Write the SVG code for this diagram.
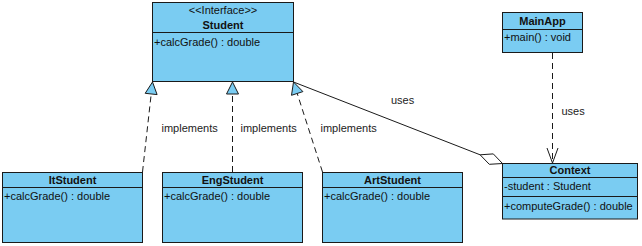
<svg xmlns="http://www.w3.org/2000/svg" width="642" height="246" viewBox="0 0 642 246">
  <style>
    .box { fill: #7ACCF2; stroke: #1a1a1a; stroke-width: 1; }
    .sep { stroke: #1a1a1a; stroke-width: 1; }
    text { font-family: "Liberation Sans", Arial, sans-serif; font-size: 11px; fill: #111; }
    .name { font-weight: bold; text-anchor: middle; }
    .stereo { text-anchor: middle; }
    .lbl { fill: #222; }
    .dash { fill: none; stroke: #1a1a1a; stroke-width: 1; stroke-dasharray: 6 4; }
    .solid { fill: none; stroke: #1a1a1a; stroke-width: 1; }
    .tri { fill: #7ACCF2; stroke: #1a1a1a; stroke-width: 1; }
    .dia { fill: #fff; stroke: #1a1a1a; stroke-width: 1; }
  </style>
  <rect width="642" height="246" fill="#fff"/>

  <g id="connectors">
    <!-- realization: ItStudent -> Student -->
    <line class="dash" x1="142.5" y1="172" x2="151.2" y2="94"/>
    <polygon class="tri" points="152.5,82 157.1,94.6 145.2,93.3"/>
    <!-- realization: EngStudent -> Student -->
    <line class="dash" x1="232.5" y1="172" x2="232.5" y2="94"/>
    <polygon class="tri" points="232.5,82 238.5,94 226.5,94"/>
    <!-- realization: ArtStudent -> Student -->
    <line class="dash" x1="322.5" y1="172" x2="297.2" y2="93.4"/>
    <polygon class="tri" points="293.5,82 302.9,91.6 291.5,95.3"/>
    <!-- aggregation: Context holds a Student -->
    <line class="solid" x1="293.5" y1="82" x2="480.1" y2="154.8"/>
    <polygon class="dia" points="502.5,163.5 493.3,153.9 480.1,154.8 489.3,164.3"/>
    <!-- dependency: MainApp uses Context -->
    <line class="dash" x1="552.5" y1="53" x2="552.5" y2="162"/>
    <polyline class="solid" points="547,148 552.5,163 558,148"/>

    <text class="lbl" x="161.5" y="132">implements</text>
    <text class="lbl" x="240.5" y="132">implements</text>
    <text class="lbl" x="320.5" y="132">implements</text>
    <text class="lbl" x="391" y="104">uses</text>
    <text class="lbl" x="561.5" y="114.5">uses</text>
  </g>

  <g id="Student">
    <rect class="box" x="152.5" y="2.5" width="141" height="79"/>
    <line class="sep" x1="152.5" y1="32.5" x2="293.5" y2="32.5"/>
    <text class="stereo" x="223" y="13.5">&lt;&lt;Interface&gt;&gt;</text>
    <text class="name" x="223" y="28.5">Student</text>
    <text x="154" y="46">+calcGrade() : double</text>
  </g>

  <g id="MainApp">
    <rect class="box" x="502.5" y="12.5" width="80" height="40"/>
    <line class="sep" x1="502.5" y1="29.5" x2="582.5" y2="29.5"/>
    <text class="name" x="542.5" y="25">MainApp</text>
    <text x="504" y="41">+main() : void</text>
  </g>

  <g id="ItStudent">
    <rect class="box" x="2.5" y="172.5" width="140" height="70"/>
    <line class="sep" x1="2.5" y1="187.5" x2="142.5" y2="187.5"/>
    <text class="name" x="72.5" y="184">ItStudent</text>
    <text x="4" y="200">+calcGrade() : double</text>
  </g>

  <g id="EngStudent">
    <rect class="box" x="162.5" y="172.5" width="140" height="70"/>
    <line class="sep" x1="162.5" y1="187.5" x2="302.5" y2="187.5"/>
    <text class="name" x="232.5" y="184">EngStudent</text>
    <text x="164" y="200">+calcGrade() : double</text>
  </g>

  <g id="ArtStudent">
    <rect class="box" x="322.5" y="172.5" width="140" height="70"/>
    <line class="sep" x1="322.5" y1="187.5" x2="462.5" y2="187.5"/>
    <text class="name" x="392.5" y="184">ArtStudent</text>
    <text x="324" y="200">+calcGrade() : double</text>
  </g>

  <g id="Context">
    <rect class="box" x="502.5" y="163.5" width="135" height="55.5"/>
    <line class="sep" x1="502.5" y1="177.5" x2="637.5" y2="177.5"/>
    <line class="sep" x1="502.5" y1="196.5" x2="637.5" y2="196.5"/>
    <text class="name" x="570" y="174">Context</text>
    <text x="504" y="190">-student : Student</text>
    <text x="504" y="210">+computeGrade() : double</text>
  </g>
</svg>
